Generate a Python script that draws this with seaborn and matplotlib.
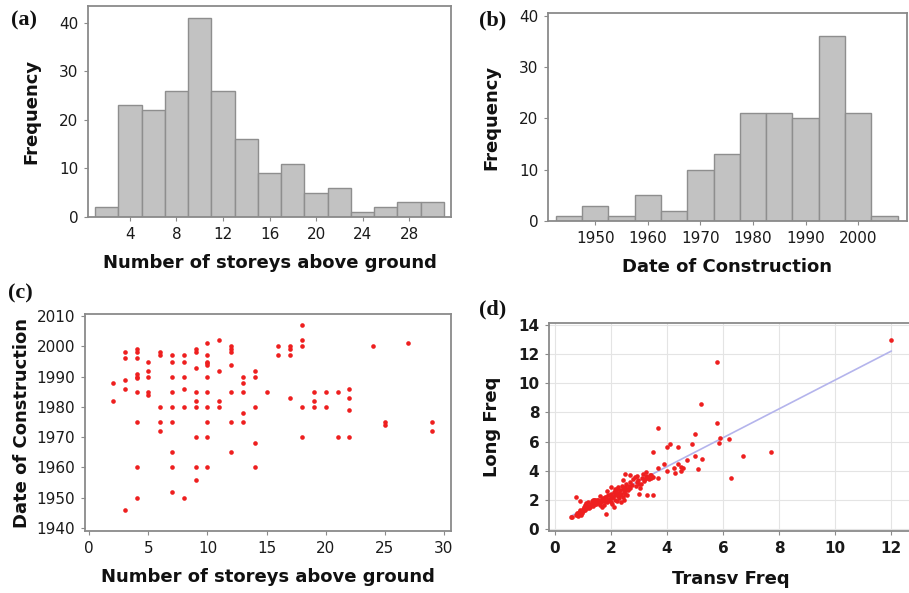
import numpy as np
import pandas as pd
import matplotlib
matplotlib.use('Agg')
import matplotlib.pyplot as plt
import seaborn as sns

# (a) number of storeys histogram (bar centres and counts)
storey_mid = [2, 4, 6, 8, 10, 12, 14, 16, 18, 20, 22, 24, 26, 28, 30]
storey_freq = [2, 23, 22, 26, 41, 26, 16, 9, 11, 5, 6, 1, 2, 3, 3]
storey_edges = [1, 3, 5, 7, 9, 11, 13, 15, 17, 19, 21, 23, 25, 27, 29, 31]

# (b) date of construction histogram
year_mid = [1945, 1950, 1955, 1960, 1965, 1970, 1975, 1980, 1985, 1990, 1995, 2000, 2005]
year_freq = [1, 3, 1, 5, 2, 10, 13, 21, 21, 20, 36, 21, 1]
year_edges = [1942.5, 1947.5, 1952.5, 1957.5, 1962.5, 1967.5, 1972.5, 1977.5,
              1982.5, 1987.5, 1992.5, 1997.5, 2002.5, 2007.5]

# (c) storeys vs date
storeys = [2, 2,
           3, 3, 3, 3, 3,
           4, 4, 4, 4, 4, 4, 4, 4, 4, 4,
           5, 5, 5, 5, 5,
           6, 6, 6, 6, 6,
           7, 7, 7, 7, 7, 7, 7, 7, 7,
           8, 8, 8, 8, 8, 8,
           9, 9, 9, 9, 9, 9, 9, 9, 9,
           10, 10, 10, 10, 10, 10, 10, 10, 10, 10, 10,
           11, 11, 11, 11,
           12, 12, 12, 12, 12, 12, 12,
           13, 13, 13, 13, 13,
           14, 14, 14, 14, 14,
           15,
           16, 16,
           17, 17, 17, 17,
           18, 18, 18, 18, 18,
           19, 19, 19,
           20, 20,
           21, 21,
           22, 22, 22, 22,
           24,
           25, 25,
           27,
           29, 29]
built = [1988, 1982,
         1998, 1996, 1989, 1986, 1946,
         1999, 1998, 1996, 1991, 1990, 1985, 1975, 1960, 1950, 1989.5,
         1995, 1992, 1990, 1985, 1984,
         1998, 1997, 1980, 1975, 1972,
         1997, 1995, 1990, 1985, 1980, 1975, 1965, 1960, 1952,
         1997, 1995, 1990, 1986, 1980, 1950,
         1999, 1998, 1993, 1985, 1982, 1980, 1970, 1960, 1956,
         2001, 1997, 1995, 1994.4, 1993.8, 1990, 1985, 1980, 1975, 1970, 1960,
         2002, 1992, 1982, 1980,
         2000, 1999.2, 1998, 1994, 1985, 1975, 1965,
         1990, 1988, 1985, 1978, 1975,
         1992, 1990, 1980, 1968, 1960,
         1985,
         2000, 1997,
         2000, 1999, 1997, 1983,
         2007, 2002, 2000, 1980, 1970,
         1985, 1982, 1980,
         1985, 1980,
         1985, 1970,
         1986, 1983, 1979, 1970,
         2000,
         1975, 1974,
         2001,
         1975, 1972]

# (d) transverse vs longitudinal frequency
transv_freq = [12.0, 5.8, 5.2, 5.8, 3.7, 5.0, 5.9, 6.2, 5.87, 4.1, 4.0, 4.4, 4.9, 3.5,
               7.7, 6.7, 5.0, 4.7, 5.26, 3.9, 4.4, 4.5, 4.57, 3.7, 4.27, 5.1, 4.0, 4.3,
               4.5, 3.7, 6.3, 3.3, 3.5, 3.0,
               0.57, 0.62, 0.75, 0.77, 0.80, 0.83, 0.86, 0.88, 0.90, 0.92, 0.95, 0.97,
               1.00, 1.02, 1.05, 1.08, 1.10, 1.12, 1.15, 1.18, 1.20, 1.22, 1.25, 1.28,
               1.30, 1.33, 1.36, 1.38, 1.40, 1.43, 1.45, 1.48, 1.50, 1.52, 1.55, 1.58,
               1.60, 1.62, 1.65, 1.68, 1.70, 1.72, 1.75, 1.78, 1.80, 1.82, 1.84, 1.86,
               1.88, 1.90, 1.92, 1.94, 1.96, 1.98, 2.00, 2.02, 2.02, 2.04, 2.06, 2.08,
               2.10, 2.12, 2.14, 2.14, 2.16, 2.18, 2.20, 2.22, 2.24, 2.26, 2.28, 2.30,
               2.32, 2.34, 2.36, 2.38, 2.40, 2.42, 2.44, 2.44, 2.46, 2.48, 2.50, 2.50,
               2.52, 2.55, 2.56, 2.58, 2.60, 2.62, 2.65, 2.67, 2.67, 2.70, 2.75, 2.80,
               2.85, 2.90, 2.92, 2.95, 2.97, 3.00, 3.05, 3.09, 3.12, 3.15, 3.18, 3.21,
               3.24, 3.27, 3.30, 3.33, 3.36, 3.39, 3.42, 3.45, 3.51,
               1.40, 1.60, 1.75, 2.00, 2.25]
long_freq = [13.0, 11.5, 8.6, 7.3, 6.9, 6.5, 6.25, 6.2, 5.9, 5.85, 5.6, 5.6, 5.8, 5.3,
             5.3, 5.0, 5.0, 4.7, 4.8, 4.45, 4.45, 4.26, 4.2, 4.2, 4.15, 4.1, 4.0, 3.8,
             3.96, 3.5, 3.5, 2.3, 2.3, 2.37,
             0.80, 0.78, 2.20, 0.92, 1.05, 0.88, 1.14, 1.00, 1.93, 1.26, 0.95, 1.10,
             1.37, 1.20, 1.50, 1.60, 1.30, 1.75, 1.45, 1.85, 1.55, 1.40, 1.48, 1.70,
             1.62, 1.90, 1.99, 1.55, 1.80, 1.70, 2.00, 1.71, 1.85, 1.95, 1.99, 1.75,
             1.60, 1.88, 1.83, 2.05, 1.50, 2.12, 1.90, 1.93, 2.20, 1.00, 2.17, 1.80,
             2.60, 2.28, 2.00, 1.95, 2.05, 2.30, 2.10, 2.40, 2.86, 1.70, 2.20, 2.17,
             1.50, 2.50, 2.28, 2.74, 2.00, 2.35, 2.51, 1.90, 2.70, 2.22, 2.45, 2.10,
             2.63, 2.30, 1.80, 2.40, 2.90, 2.20, 2.74, 3.32, 2.55, 2.00, 2.86, 3.78,
             2.40, 2.65, 3.09, 2.30, 2.75, 2.63, 2.95, 3.20, 3.66, 2.80, 3.00, 3.40,
             3.55, 2.90, 3.20, 3.60, 3.32, 3.10, 2.80, 3.09, 3.50, 3.78, 3.30, 3.43,
             3.60, 3.89, 3.55, 3.50, 3.40, 3.66, 3.45, 3.70, 3.55,
             1.95, 2.25, 1.65, 1.85, 2.85]

sns.set_style('white')
plt.rcParams['font.family'] = ['DejaVu Sans']

W, H = 909, 593
fig = plt.figure(figsize=(W / 100, H / 100), dpi=100)

def box(l, t, r, b):
    return fig.add_axes([l / W, 1 - b / H, (r - l) / W, (b - t) / H])

ax_a = box(88, 6, 451, 217)
ax_b = box(548, 13, 907, 221)
ax_c = box(85, 314, 451, 531)
ax_d = box(549, 323, 913, 531)

bar_fill = '#c2c2c2'
bar_edge = '#8e8e8e'
frame = '#8a8a8a'
red = '#ee1f1f'
lab_kw = dict(fontsize=13, fontweight='bold', color='#111111')

# (a)
sns.histplot(x=storey_mid, weights=storey_freq, bins=storey_edges, color=bar_fill,
             edgecolor=bar_edge, linewidth=1, alpha=1, ax=ax_a)
ax_a.set_xlim(0.4, 31.6)
ax_a.set_ylim(0, 43.4)
ax_a.set_xticks([4, 8, 12, 16, 20, 24, 28])
ax_a.set_yticks([0, 10, 20, 30, 40])
ax_a.set_xlabel('Number of storeys above ground', labelpad=9, **lab_kw)
ax_a.set_ylabel('Frequency', labelpad=13, **lab_kw)

# (b)
sns.histplot(x=year_mid, weights=year_freq, bins=year_edges, color=bar_fill,
             edgecolor=bar_edge, linewidth=1, alpha=1, ax=ax_b)
ax_b.set_xlim(1941, 2009.3)
ax_b.set_ylim(0, 40.5)
ax_b.set_xticks([1950, 1960, 1970, 1980, 1990, 2000])
ax_b.set_yticks([0, 10, 20, 30, 40])
ax_b.set_xlabel('Date of Construction', labelpad=9, **lab_kw)
ax_b.set_ylabel('Frequency', labelpad=13, **lab_kw)

# (c)
sns.scatterplot(x=storeys, y=built, color=red, s=11, linewidth=0, ax=ax_c)
ax_c.set_xlim(-0.36, 30.6)
ax_c.set_ylim(1939, 2010.7)
ax_c.set_xticks([0, 5, 10, 15, 20, 25, 30])
ax_c.set_yticks([1940, 1950, 1960, 1970, 1980, 1990, 2000, 2010])
ax_c.set_xlabel('Number of storeys above ground', labelpad=9, **lab_kw)
ax_c.set_ylabel('Date of Construction', labelpad=4, **lab_kw)

# (d)
ax_d.grid(True, color='#e4e4e4', linewidth=0.8)
ax_d.set_axisbelow(True)
sns.regplot(x=transv_freq, y=long_freq, scatter=False, ci=None, truncate=True,
            line_kws=dict(color='#b4b4ec', linewidth=1.2), ax=ax_d)
sns.scatterplot(x=transv_freq, y=long_freq, color=red, s=11, linewidth=0, ax=ax_d, zorder=3)
ax_d.set_xlim(-0.2, 12.77)
ax_d.set_ylim(-0.17, 14.17)
ax_d.set_xticks([0, 2, 4, 6, 8, 10, 12])
ax_d.set_yticks([0, 2, 4, 6, 8, 10, 12, 14])
ax_d.set_xlabel('Transv Freq', labelpad=10, **lab_kw)
ax_d.set_ylabel('Long Freq', labelpad=12, **lab_kw)
for lbl in ax_d.get_xticklabels() + ax_d.get_yticklabels():
    lbl.set_fontweight('bold')

for ax in (ax_a, ax_b, ax_c, ax_d):
    for sp in ax.spines.values():
        sp.set_color(frame)
        sp.set_linewidth(1.3)
    ax.tick_params(axis='both', direction='out', length=3, width=0.8, color=frame,
                   labelsize=11, labelcolor='#1a1a1a', pad=4,
                   bottom=True, left=True)

# panel letters
for txt, x, y in [('(a)', 24, 20), ('(b)', 493, 20), ('(c)', 20, 293), ('(d)', 493, 309)]:
    fig.text(x / W, 1 - y / H, txt, family='Liberation Serif', fontweight='bold',
             fontsize=16, ha='center', va='center', color='#111111')

fig.savefig('out.png', dpi=100)
